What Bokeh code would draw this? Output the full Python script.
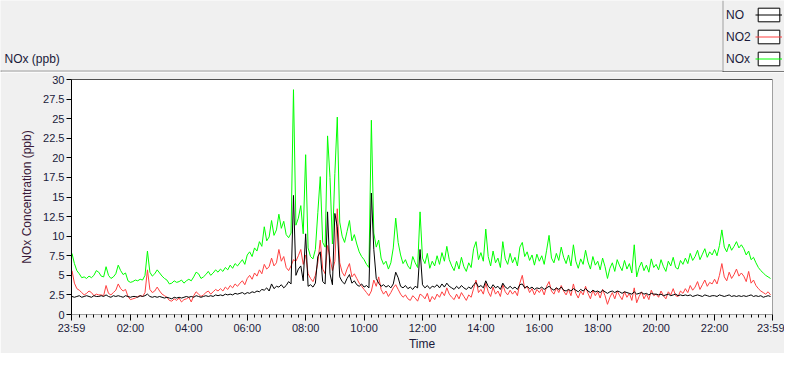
from bokeh.plotting import figure
from bokeh.layouts import column
from bokeh.models import (Range1d, FixedTicker, Legend, LegendItem, BoxAnnotation, Span, Label)
from bokeh.embed import file_html
from bokeh.resources import INLINE

# ---------------- data (5-minute samples, minutes after midnight) ----------------
time_min = list(range(0, 1440, 5))

nox = [
    7.8, 6.5, 5.6, 5.2, 4.7, 4.8, 4.6, 4.9, 4.7, 5.0, 5.6, 5.4,
    4.9, 4.8, 6.1, 5.0, 4.6, 4.8, 5.2, 6.3, 5.6, 5.1, 5.3, 4.3,
    4.1, 4.2, 4.4, 4.3, 4.5, 4.4, 5.0, 8.1, 5.4, 4.9, 5.2, 5.7,
    5.3, 4.9, 4.6, 4.4, 3.9, 4.0, 4.3, 4.1, 4.2, 4.4, 4.0, 4.3,
    4.5, 4.3, 4.8, 5.4, 5.2, 4.6, 4.8, 5.1, 5.5, 5.0, 5.3, 5.7,
    5.4, 5.8, 5.5, 6.0, 5.7, 6.3, 5.9, 6.5, 6.2, 6.6, 7.0, 6.4,
    7.6, 8.0, 7.4, 8.5, 8.1, 9.3, 8.7, 11.2, 9.4, 9.9, 12.0, 10.1,
    10.8, 12.8, 11.0, 11.9, 10.2, 9.8, 10.4, 28.7, 11.4, 12.3, 13.9, 10.3,
    20.4, 8.5, 7.4, 7.1, 8.3, 13.0, 17.6, 9.2, 8.6, 22.8, 17.5, 9.0,
    18.0, 25.2, 11.8, 10.0, 9.2, 10.6, 12.0, 9.4, 10.2, 9.0, 8.0, 7.4,
    7.0, 6.4, 6.0, 24.8, 10.4, 8.6, 9.5, 7.2, 6.4, 6.8, 5.8, 6.6,
    8.5, 12.3, 9.2, 7.6, 6.5, 7.0, 6.2, 5.8, 7.4, 6.6, 6.0, 13.1,
    7.2, 6.5, 7.8, 5.9, 6.8, 6.2, 7.5, 6.4, 7.9, 6.8, 8.7, 7.0,
    6.2, 5.6, 6.8, 5.8, 7.3, 6.1, 5.5, 6.6, 6.0, 8.4, 9.3, 7.0,
    7.9, 6.8, 10.9, 7.4, 6.2, 8.1, 6.6, 7.2, 6.0, 9.3, 7.1, 6.4,
    7.8, 6.6, 7.3, 6.2, 8.6, 9.2, 7.4, 8.0, 6.9, 7.6, 6.3, 7.7,
    6.8, 7.5, 6.4, 8.2, 10.1, 7.2, 6.6, 7.8, 6.9, 8.6, 7.3, 6.5,
    7.6, 6.2, 8.9, 6.8, 5.9, 7.1, 6.4, 8.2, 6.7, 5.8, 7.4, 6.3,
    6.8, 5.7, 7.2, 6.1, 4.6, 5.9, 6.6, 5.5, 7.0, 6.2, 5.6, 6.9,
    5.8, 6.5, 5.3, 8.9, 4.8, 6.0, 6.7, 5.6, 6.3, 5.4, 7.1, 6.0,
    6.4, 5.7, 7.0, 6.1, 5.5, 6.8, 6.2, 7.3, 6.0, 5.8, 6.9, 6.4,
    7.2, 6.5, 7.8, 6.9, 7.4, 8.2, 7.0, 7.7, 8.4, 7.3, 8.0, 7.6,
    8.3, 7.5, 8.8, 10.8, 8.6, 8.0, 9.0, 8.2, 8.7, 9.3, 8.5, 8.9,
    8.4, 7.6, 8.1, 7.0, 7.3, 6.6, 6.0, 5.6, 5.3, 5.0, 4.8, 4.6,
]

no2 = [
    5.6, 4.0, 3.3, 3.1, 2.8, 2.5, 2.7, 3.0, 2.8, 2.4, 2.6, 2.5,
    2.5, 2.4, 3.7, 2.7, 2.5, 2.8, 3.1, 3.9, 3.3, 3.0, 3.2, 2.3,
    1.9, 2.0, 2.1, 2.3, 2.4, 2.3, 2.8, 5.7, 3.2, 2.8, 3.0, 3.5,
    3.0, 2.6, 2.4, 2.2, 1.8, 1.7, 2.0, 1.8, 2.1, 1.6, 1.9, 2.0,
    2.2, 1.6, 2.4, 2.9, 2.6, 2.3, 2.5, 2.8, 3.0, 2.6, 2.9, 3.2,
    3.0, 3.3, 3.0, 3.5, 3.2, 3.7, 3.4, 3.9, 3.6, 4.0, 4.3, 3.8,
    4.6, 5.0, 4.5, 5.3, 4.9, 5.7, 5.2, 6.4, 5.8, 6.1, 7.2, 6.2,
    6.6, 8.3, 6.8, 7.4, 6.0, 5.6, 6.2, 7.0, 6.8, 7.5, 8.3, 6.4,
    7.6, 5.2, 4.6, 4.2, 5.0, 6.6, 9.5, 5.8, 5.2, 8.8, 7.2, 5.6,
    6.8, 13.5, 6.6, 5.4, 4.9, 5.8, 6.5, 4.8, 5.2, 4.6, 4.0, 3.6,
    3.2, 2.8, 2.4, 3.0, 4.4, 3.6, 4.8, 3.2, 2.6, 3.0, 2.3, 2.8,
    3.4, 3.8, 3.2, 2.6, 2.2, 2.5, 2.0, 1.8, 2.4, 2.1, 1.7, 2.6,
    2.4, 2.0, 2.7, 1.6, 2.3, 1.9, 2.6, 2.2, 2.9, 2.4, 3.4, 2.6,
    2.2, 1.9, 2.6, 2.0, 2.8, 2.3, 1.8, 2.5, 2.2, 3.3, 4.4, 2.8,
    3.2, 2.6, 4.0, 2.9, 2.3, 3.5, 2.6, 3.0, 2.3, 3.8, 2.9, 2.5,
    3.1, 2.6, 3.0, 2.4, 4.0, 5.0, 3.3, 3.6, 2.8, 3.3, 2.5, 3.2,
    2.8, 3.3, 2.5, 3.6, 4.2, 3.0, 2.6, 3.4, 2.8, 3.7, 3.0, 2.5,
    3.2, 2.4, 3.9, 2.7, 2.1, 3.0, 2.5, 3.6, 2.7, 2.0, 3.1, 2.4,
    2.9, 2.1, 3.2, 2.4, 1.3, 2.2, 2.8, 2.0, 3.0, 2.4, 1.9, 2.9,
    2.2, 2.7, 1.8, 3.4, 1.5, 2.3, 2.9, 2.0, 2.6, 1.9, 3.1, 2.4,
    2.6, 2.2, 3.0, 2.4, 2.0, 2.9, 2.5, 3.3, 2.4, 2.3, 3.0, 2.7,
    3.3, 2.8, 3.7, 3.1, 3.5, 4.2, 3.2, 3.8, 4.4, 3.6, 4.1, 3.9,
    4.5, 3.9, 5.0, 6.5, 4.8, 4.3, 5.4, 4.6, 5.1, 5.8, 4.9, 5.3,
    4.9, 4.2, 5.5, 4.0, 4.4, 3.7, 3.3, 3.0, 2.8, 2.6, 2.9, 2.5,
]

no = [
    2.3, 2.2, 2.3, 2.4, 2.2, 2.3, 2.4, 2.3, 2.2, 2.4, 2.3, 2.3,
    2.4, 2.3, 2.5, 2.3, 2.2, 2.4, 2.3, 2.4, 2.3, 2.2, 2.4, 2.3,
    2.2, 2.3, 2.3, 2.2, 2.4, 2.3, 2.4, 2.6, 2.3, 2.2, 2.3, 2.2,
    2.3, 2.2, 2.1, 2.2, 2.1, 2.0, 2.2, 2.1, 2.2, 2.1, 2.2, 2.3,
    2.2, 2.3, 2.2, 2.4, 2.3, 2.2, 2.3, 2.4, 2.3, 2.4, 2.3, 2.5,
    2.4, 2.5, 2.4, 2.6, 2.5, 2.6, 2.5, 2.7, 2.6, 2.7, 2.8, 2.6,
    2.8, 2.7, 2.9, 2.8, 3.0, 2.9, 3.2, 3.1, 3.4, 3.0, 3.9, 3.3,
    3.6, 3.5, 3.8, 3.4, 3.7, 4.2, 3.9, 15.2, 5.0, 5.8, 6.2, 4.3,
    10.3, 3.6, 3.8, 3.5, 4.0, 7.4, 8.0, 4.2, 3.9, 13.1, 5.2, 3.8,
    12.9, 11.2, 4.8, 4.2, 3.9, 4.6, 5.1, 4.0, 4.3, 3.8, 3.6, 3.9,
    3.5, 3.7, 3.4, 15.5, 8.3, 4.6, 4.0, 3.6, 3.8, 3.5, 3.7, 3.4,
    3.9, 5.4, 4.7, 3.6, 3.4, 3.7, 3.3, 3.5, 3.2, 3.6, 3.4, 8.3,
    3.8, 3.4, 3.7, 3.3, 3.6, 3.5, 3.8, 3.4, 3.9, 3.5, 4.0, 3.6,
    3.4, 3.2, 3.6, 3.3, 3.7, 3.4, 3.2, 3.5, 3.3, 3.8, 4.1, 3.5,
    3.7, 3.4, 4.3, 3.6, 3.3, 3.8, 3.4, 3.6, 3.2, 4.0, 3.5, 3.3,
    3.6, 3.3, 3.5, 3.2, 3.8, 3.9, 3.4, 3.6, 3.3, 3.5, 3.2, 3.4,
    3.3, 3.5, 3.2, 3.4, 3.6, 3.3, 3.1, 3.4, 3.2, 3.5, 3.1, 3.0,
    3.2, 3.0, 3.3, 3.1, 2.9, 3.2, 3.0, 3.3, 3.0, 2.8, 3.1, 2.9,
    3.0, 2.8, 3.1, 2.9, 2.7, 2.9, 3.0, 2.8, 3.0, 2.9, 2.7, 2.9,
    2.8, 2.7, 2.6, 2.9, 2.6, 2.7, 2.8, 2.6, 2.7, 2.5, 2.7, 2.6,
    2.6, 2.5, 2.6, 2.4, 2.5, 2.6, 2.4, 2.5, 2.6, 2.4, 2.5, 2.4,
    2.5, 2.4, 2.5, 2.3, 2.4, 2.5, 2.4, 2.3, 2.5, 2.4, 2.3, 2.4,
    2.4, 2.3, 2.5, 2.4, 2.3, 2.4, 2.5, 2.3, 2.4, 2.3, 2.4, 2.3,
    2.4, 2.3, 2.4, 2.5, 2.3, 2.4, 2.3, 2.4, 2.2, 2.3, 2.4, 2.3,
]

series_names = ["NO", "NO2", "NOx"]
series_colors = ["black", "#ff4040", "#00ff00"]
series_values = [no, no2, nox]
x_tick_values = [-1, 120, 240, 360, 480, 600, 720, 840, 960, 1080, 1200, 1320, 1439]
x_tick_labels = ["23:59", "02:00", "04:00", "06:00", "08:00", "10:00", "12:00",
                 "14:00", "16:00", "18:00", "20:00", "22:00", "23:59"]
y_tick_values = [0, 2.5, 5, 7.5, 10, 12.5, 15, 17.5, 20, 22.5, 25, 27.5, 30]
y_tick_labels = ["0", "2.5", "5", "7.5", "10", "12.5", "15", "17.5", "20",
                 "22.5", "25", "27.5", "30"]

assert len(nox) == len(no2) == len(no) == len(time_min)

# ---------------- styling ----------------
FONT = "Liberation Sans"
TXT = "#1a1a3a"
GREY_BG = "#f0f0f0"
EDGE = "#a0a0a0"
W, H = 784, 353
HEAD_H = 72
MAIN_H = H - HEAD_H
LEG_X = 722

# ---------------- header: chart name + legend ----------------
head = figure(width=W, height=HEAD_H, output_backend="svg", toolbar_location=None,
              x_range=Range1d(0, W), y_range=Range1d(0, HEAD_H),
              x_axis_type=None, y_axis_type=None, min_border=0)
head.frame_align = False
head.outline_line_color = None
head.background_fill_color = GREY_BG
head.border_fill_color = GREY_BG

head.add_layout(Label(x=4, y=HEAD_H - 58, text="NOx (ppb)", text_baseline="middle",
                      text_font=FONT, text_font_size="12px", text_color=TXT))

# hidden renderers of the series, used only to draw the legend swatches
swatch = head.vbar(x=time_min, top=nox, width=1, fill_color="white", line_color="black",
                   visible=False)
leg_lines = [head.line(time_min, v, line_color=c, line_width=1, visible=False)
             for v, c in zip(series_values, series_colors)]

common = dict(glyph_height=17, spacing=5, padding=5, margin=0, border_line_color=None,
              inactive_fill_alpha=0, label_text_font=FONT, label_text_font_size="12px",
              label_text_color=TXT)
# names (left column of the legend box)
legend_names = Legend(items=[LegendItem(label=n, renderers=[r])
                             for n, r in zip(series_names, leg_lines)],
                      location=(LEG_X + 4, 5), glyph_width=0, label_standoff=0,
                      background_fill_alpha=0, **common)
# swatches (right column of the legend box)
legend_swatch = Legend(items=[LegendItem(label="", renderers=[swatch, r]) for r in leg_lines],
                       location=(W - 29, 5), glyph_width=27, label_standoff=0,
                       background_fill_alpha=0, **common)
head.add_layout(legend_names)
head.add_layout(legend_swatch)

for l, r, b, t, c in [(0, LEG_X, 1, 2, EDGE), (0, 1, 0, 2, EDGE),
                      (LEG_X, LEG_X + 1, 0, HEAD_H, EDGE), (LEG_X, W, 0, 1, "black")]:
    head.add_layout(BoxAnnotation(left=l, right=r, bottom=b, top=t, level="overlay",
                                  fill_color=c, fill_alpha=1, line_color=None))

# ---------------- main chart ----------------
p = figure(width=W, height=MAIN_H, output_backend="svg", toolbar_location=None,
           x_range=Range1d(-1, 1439), y_range=Range1d(0, 30),
           min_border_left=71, min_border_right=12, min_border_top=7, min_border_bottom=34)
p.frame_align = False
p.border_fill_color = GREY_BG
p.background_fill_color = "white"
p.outline_line_color = EDGE
p.xgrid.visible = False
p.ygrid.visible = False

p.line(time_min, nox, line_color=series_colors[2], line_width=1)
p.line(time_min, no2, line_color=series_colors[1], line_width=1)
p.line(time_min, no, line_color=series_colors[0], line_width=1)

p.add_layout(Span(location=30, dimension="width", line_color="black", line_width=1))

xa = p.xaxis[0]
minor = [m for m in range(0, 1440, 15) if m % 120 != 0]
xa.ticker = FixedTicker(ticks=x_tick_values, minor_ticks=minor)
xa.major_label_overrides = dict(zip(x_tick_values, x_tick_labels))
xa.axis_label = "Time"
xa.axis_line_color = EDGE
xa.major_tick_in = 0
xa.major_tick_out = 6
xa.minor_tick_in = 0
xa.minor_tick_out = 3
xa.major_tick_line_color = "black"
xa.minor_tick_line_color = "black"
xa.major_label_standoff = 1
xa.axis_label_standoff = 0
xa.major_label_text_font = FONT
xa.major_label_text_font_size = "11px"
xa.major_label_text_color = TXT
xa.axis_label_text_font = FONT
xa.axis_label_text_font_size = "12px"
xa.axis_label_text_font_style = "normal"
xa.axis_label_text_color = TXT

ya = p.yaxis[0]
ya.ticker = FixedTicker(ticks=y_tick_values)
ya.major_label_overrides = dict(zip(y_tick_values, y_tick_labels))
ya.axis_label = "NOx Concentration (ppb)"
ya.axis_line_color = "black"
ya.major_tick_in = 0
ya.major_tick_out = 5
ya.minor_tick_line_color = None
ya.major_label_standoff = 2
ya.axis_label_standoff = 6
ya.major_label_text_font = FONT
ya.major_label_text_font_size = "11px"
ya.major_label_text_color = TXT
ya.axis_label_text_font = FONT
ya.axis_label_text_font_size = "12px"
ya.axis_label_text_font_style = "normal"
ya.axis_label_text_color = "#3a1a3a"

layout = column(head, p, spacing=0)
open("out.html", "w").write(file_html(layout, INLINE))
